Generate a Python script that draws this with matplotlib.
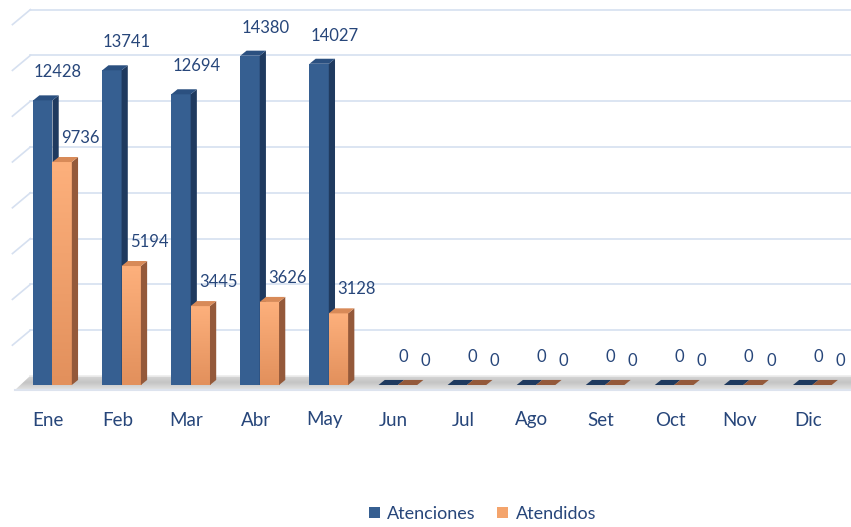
import numpy as np
import matplotlib
matplotlib.use("Agg")
import matplotlib.pyplot as plt
from matplotlib.patches import Polygon, Patch, Rectangle
from matplotlib.colors import LinearSegmentedColormap

months = ["Ene", "Feb", "Mar", "Abr", "May", "Jun", "Jul", "Ago", "Set", "Oct", "Nov", "Dic"]
atenciones = [12428, 13741, 12694, 14380, 14027, 0, 0, 0, 0, 0, 0, 0]
atendidos = [9736, 5194, 3445, 3626, 3128, 0, 0, 0, 0, 0, 0, 0]
grid_values = [2000, 4000, 6000, 8000, 10000, 12000, 14000, 16000]

plt.rcParams['font.family'] = ['Lato', 'DejaVu Sans']
TXT = '#27467a'

fig = plt.figure(figsize=(8.51, 5.27), dpi=100)
ax = fig.add_axes([0, 1 - 395 / 527, 1, 395 / 527])
ax.set_xlim(-0.7, 11.62)
ax.set_ylim(-437, 16812)
ax.axis('off')

dx = 0.09
dy = 220
back = 393
px = 1000 / 22.9

for v in grid_values:
    yb = v + back
    ax.plot([-0.26, 11.62], [yb, yb], color='#d6e0f0', lw=1.2, zorder=1)
    ax.plot([-0.52, -0.26], [yb - 15 * px, yb], color='#d6e0f0', lw=1.2, zorder=1)

# floor with gradient
floor = Polygon([[-0.48, -230], [11.62, -230], [11.62, back], [-0.26, back]],
                closed=True, facecolor='none', edgecolor='none', zorder=2)
ax.add_patch(floor)
fcm = LinearSegmentedColormap.from_list('fl', ['#e4e4e4', '#c4c4c4', '#d9d9d9'])
g = np.linspace(0, 1, 50).reshape(-1, 1)
im = ax.imshow(g, extent=(-0.5, 11.62, -230, back), origin='lower', aspect='auto',
               cmap=fcm, zorder=2)
im.set_clip_path(floor)
ax.plot([-0.26, 11.62], [back, back], color='#ececec', lw=1.2, zorder=2.1)
ax.plot([-0.48, 11.62], [-230, -230], color='#dde3ee', lw=1.5, zorder=2.1)

w = 0.28
x = np.arange(len(months))


def bar3d(xc, h, front, side, top, z, grad=None):
    x0, x1 = xc - w / 2, xc + w / 2
    r = Rectangle((x0, 0), w, h, facecolor=front, edgecolor='none', zorder=z)
    ax.add_patch(r)
    if grad is not None and h > 0:
        gg = np.linspace(0, 1, 100).reshape(-1, 1)
        im2 = ax.imshow(gg, extent=(x0, x1, 0, h), origin='lower', aspect='auto',
                        cmap=grad, zorder=z + 0.1)
        im2.set_clip_path(r)
    ax.add_patch(Polygon([[x1, 0], [x1 + dx, dy], [x1 + dx, h + dy], [x1, h]],
                         closed=True, facecolor=side, edgecolor='none', zorder=z + 0.2))
    ax.add_patch(Polygon([[x0, h], [x1, h], [x1 + dx, h + dy], [x0 + dx, h + dy]],
                         closed=True, facecolor=top if h > 0 else side,
                         edgecolor='none', zorder=z + 0.3))


org = LinearSegmentedColormap.from_list('org', ['#e2905c', '#fdb07c'])

for i in range(len(months)):
    bc = x[i] - 0.08
    oc = x[i] + 0.2
    bar3d(bc, atenciones[i], '#365f91', '#1f3a5f', '#2b5080', 3)
    bar3d(oc, atendidos[i], '#f4a46c', '#94593a', '#d88a58', 4, grad=org)
    ax.text(bc + 0.22, atenciones[i] + 1230, str(atenciones[i]), ha='center', va='center',
            fontsize=12, color=TXT, zorder=10)
    ax.text(oc + 0.26, atendidos[i] + 1050, str(atendidos[i]), ha='center', va='center',
            fontsize=12, color=TXT, zorder=10)

for i, m in enumerate(months):
    ax.annotate(m, xy=(x[i], 0), xycoords=('data', 'axes fraction'), xytext=(0, -25),
                textcoords='offset pixels', ha='center', va='center', fontsize=13.5, color=TXT)

handles = [Patch(facecolor='#365f91'), Patch(facecolor='#f4a46c')]
fig.legend(handles, ['Atenciones', 'Atendidos'], loc='center', bbox_to_anchor=(0.567, 0.025),
           ncol=2, frameon=False, fontsize=13, labelcolor=TXT, handlelength=0.6, handleheight=0.6,
           handletextpad=0.4, columnspacing=1.2)

fig.savefig('out.png', dpi=100)
